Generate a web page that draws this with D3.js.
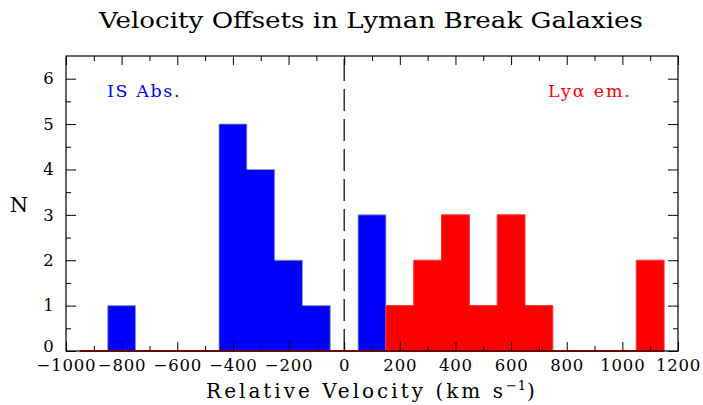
<!DOCTYPE html>
<html><head><meta charset="utf-8">
<script src="https://cdn.jsdelivr.net/npm/d3@7"></script>
<style>
html,body{margin:0;padding:0;background:#fff;}
svg{display:block;}
.tick text{font-family:"DejaVu Serif",serif;font-size:16.5px;fill:#000;letter-spacing:0.8px;}
</style></head>
<body>
<script>
// Histogram bin centres (km/s), bin width 100
const binCenters = [-900,-800,-700,-600,-500,-400,-300,-200,-100,0,100,200,300,400,500,600,700,800,900,1000,1100];
const isAbsCounts = [0,1,0,0,0,5,4,2,1,0,3,0,0,0,0,0,0,0,0,0,0];
const lyaCounts   = [0,0,0,0,0,0,0,0,0,0,0,1,2,3,1,3,1,0,0,0,2];
const xTickLabels = [-1000,-800,-600,-400,-200,0,200,400,600,800,1000,1200];
const yTickLabels = [0,1,2,3,4,5,6];
const binWidth = 100;

const W = 703, H = 405;
const L = 66, R = 678, T = 56, B = 351;

const svg = d3.select("body").append("svg").attr("width", W).attr("height", H);

const x = d3.scaleLinear().domain([-1000,1200]).range([L,R]);
const y = d3.scaleLinear().domain([0,6.5]).range([B,T]);

function stepData(counts){
  const pts = binCenters.map((c,i)=>({e:c-binWidth/2, n:counts[i]}));
  pts.push({e:binCenters[binCenters.length-1]+binWidth/2, n:counts[counts.length-1]});
  return pts;
}
const area = d3.area().curve(d3.curveStepAfter)
  .x(d=>x(d.e)).y0(y(0)).y1(d=>y(d.n));

// Blue histogram
svg.append("path").datum(stepData(isAbsCounts)).attr("d",area)
  .attr("fill","#0000ff").attr("stroke","#9a9a9a").attr("stroke-width",0.8);

// Red histogram
svg.append("path").datum(stepData(lyaCounts)).attr("d",area)
  .attr("fill","#ff0000").attr("stroke","#ff3030").attr("stroke-width",1);
svg.append("line")
  .attr("x1", x(binCenters[0]-binWidth/2)).attr("x2", x(binCenters[binCenters.length-1]+binWidth/2))
  .attr("y1", y(0)).attr("y2", y(0))
  .attr("stroke","#ff0000").attr("stroke-width",1.6);

// Dashed zero line
svg.append("line").attr("x1",x(0)).attr("x2",x(0)).attr("y1",B).attr("y2",T)
  .attr("stroke","#000").attr("stroke-width",1.2).attr("stroke-dasharray","22,8");

// Axes: major + minor ticks, inward
const xMinor = d3.range(-900,1200,200);
const yMinor = d3.range(0.5,6.5,1);

svg.append("g").attr("transform",`translate(0,${B})`)
  .call(d3.axisBottom(x).tickValues(xTickLabels).tickSize(-9).tickPadding(8.5).tickFormat(d3.format("d")));
svg.append("g").attr("transform",`translate(0,${B})`)
  .call(d3.axisBottom(x).tickValues(xMinor).tickSize(-5).tickFormat(""));
svg.append("g").attr("transform",`translate(0,${T})`)
  .call(d3.axisTop(x).tickValues(xTickLabels).tickSize(-9).tickFormat(""));
svg.append("g").attr("transform",`translate(0,${T})`)
  .call(d3.axisTop(x).tickValues(xMinor).tickSize(-5).tickFormat(""));

const gyL = svg.append("g").attr("transform",`translate(${L},0)`)
  .call(d3.axisLeft(y).tickValues(yTickLabels).tickSize(-10).tickPadding(11.5).tickFormat(d3.format("d")));
svg.append("g").attr("transform",`translate(${L},0)`)
  .call(d3.axisLeft(y).tickValues(yMinor).tickSize(-5).tickFormat(""));
svg.append("g").attr("transform",`translate(${R},0)`)
  .call(d3.axisRight(y).tickValues(yTickLabels).tickSize(-10).tickFormat(""));
svg.append("g").attr("transform",`translate(${R},0)`)
  .call(d3.axisRight(y).tickValues(yMinor).tickSize(-5).tickFormat(""));

svg.selectAll(".domain").remove();
svg.selectAll(".tick line").attr("stroke","#000").attr("stroke-width",1);
// y "0" label sits slightly higher to clear the x labels
gyL.selectAll(".tick text").filter(d=>d===0).attr("dy","0.05em");

// Frame
svg.append("rect").attr("x",L).attr("y",T).attr("width",R-L).attr("height",B-T)
  .attr("fill","none").attr("stroke","#000").attr("stroke-width",1.2);

// Texts
svg.append("text").attr("x",99).attr("y",28)
  .attr("textLength",544).attr("lengthAdjust","spacingAndGlyphs")
  .style("font-family","DejaVu Serif").style("font-size","21.5px")
  .text("Velocity Offsets in Lyman Break Galaxies");

const xl = svg.append("text").attr("x",372).attr("y",398).attr("text-anchor","middle")
  .style("font-family","DejaVu Serif").style("font-size","20px").style("letter-spacing","3px");
xl.append("tspan").text("Relative Velocity (km s");
xl.append("tspan").attr("dy",-8).style("font-size","13px").style("letter-spacing","1px").text("−1");
xl.append("tspan").attr("dy",8).text(")");

svg.append("text").attr("x",19).attr("y",212).attr("text-anchor","middle")
  .style("font-family","DejaVu Serif").style("font-size","21px").text("N");

svg.append("text").attr("x",107).attr("y",97).attr("fill","#0000ff")
  .style("font-family","DejaVu Serif").style("font-size","17.5px").style("letter-spacing","1.6px").text("IS Abs.");
svg.append("text").attr("x",548).attr("y",97).attr("fill","#ff0000")
  .style("font-family","DejaVu Serif").style("font-size","17.5px").style("letter-spacing","1.8px").text("Lyα em.");
</script>
</body></html>
